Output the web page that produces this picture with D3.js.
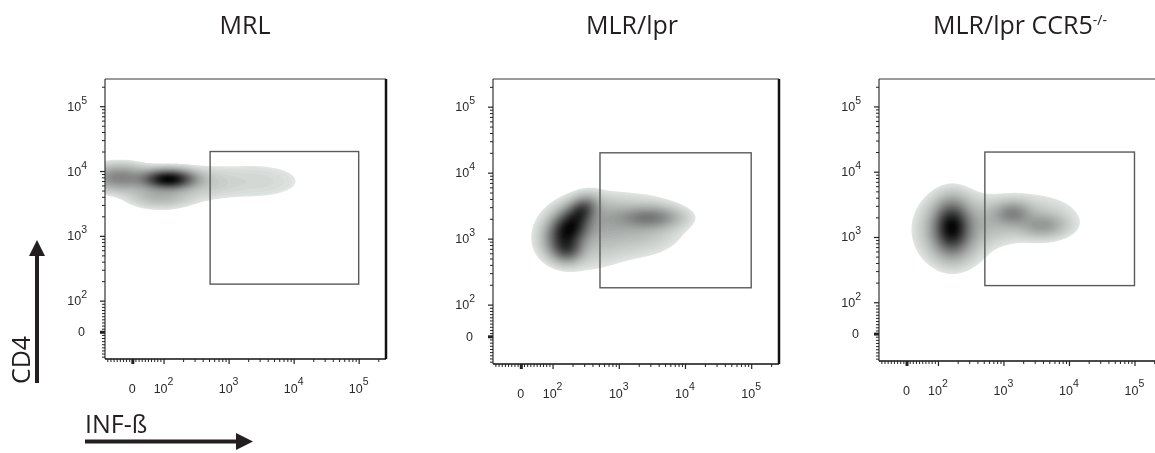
<!DOCTYPE html>
<html>
<head>
<meta charset="utf-8">
<script src="https://cdn.jsdelivr.net/npm/d3@7"></script>
<style>
  body { margin: 0; background: #fff; }
  svg { will-change: transform; }
</style>
</head>
<body>
<div id="chart"></div>
<script>
const WIDTH = 1155, HEIGHT = 453;

// DATA
const titles = ["MRL", "MLR/lpr", "MLR/lpr CCR5"];
const titleSups = ["", "", "-/-"];
const xLabel = "INF-ß";
const yLabel = "CD4";

// same gate on all three plots (channel values)
const gateX = [520, 100000];
const gateY = [180, 20000];

const majorTicks = [100, 1000, 10000, 100000];
const majorLabels = ["2", "3", "4", "5"];   // exponents of 10
const linearTicks = [-80, -70, -60, -50, -40, -30, -20, -10, 10, 20, 30, 40, 50, 60, 70, 80, 90];
const logMinorTicks = [2, 3, 4, 5, 6, 7, 8, 9];

// density peaks: centre (channel values), spread (decades), weight
const mrlBlobs = [
  { x: 120, y: 7500, sx: 0.23, sy: 0.085, r: 0, w: 1 },
  { x: -40, y: 7900, sx: 0.28, sy: 0.12, r: 0, w: 0.3 },
  { x: 90, y: 4300, sx: 0.3, sy: 0.12, r: 0, w: 0.14 },
  { x: 400, y: 6500, sx: 0.3, sy: 0.15, r: 0, w: 0.05 },
  { x: 2500, y: 7000, sx: 0.55, sy: 0.2, r: 0, w: 0.04 }
];
const lprBlobs = [
  { x: 175, y: 1400, sx: 0.18, sy: 0.18, r: 0.3, w: 1 },
  { x: 280, y: 2700, sx: 0.13, sy: 0.12, r: 0.3, w: 0.5 },
  { x: 165, y: 700, sx: 0.14, sy: 0.12, r: 0, w: 0.5 },
  { x: 600, y: 2200, sx: 0.25, sy: 0.18, r: 0, w: 0.08 },
  { x: 2950, y: 2100, sx: 0.28, sy: 0.1, r: 0, w: 0.3 },
  { x: 2000, y: 1600, sx: 0.38, sy: 0.25, r: 0, w: 0.12 },
  { x: 300, y: 1200, sx: 0.4, sy: 0.3, r: 0, w: 0.12 }
];
const ccr5Blobs = [
  { x: 162, y: 1400, sx: 0.15, sy: 0.22, r: 0, w: 1 },
  { x: 170, y: 1300, sx: 0.28, sy: 0.29, r: 0, w: 0.35 },
  { x: 700, y: 1700, sx: 0.25, sy: 0.2, r: 0, w: 0.09 },
  { x: 1400, y: 2300, sx: 0.17, sy: 0.11, r: 0, w: 0.3 },
  { x: 4000, y: 1500, sx: 0.22, sy: 0.11, r: 0, w: 0.22 },
  { x: 2500, y: 2000, sx: 0.45, sy: 0.22, r: 0, w: 0.09 }
];
const blobsByPanel = [mrlBlobs, lprBlobs, ccr5Blobs];

// LAYOUT
const PANELS = [
  { left: 105, top: 79, w: 281, h: 280, titleX: 245 },
  { left: 493, top: 79, w: 286, h: 285, titleX: 632 },
  { left: 879, top: 79, w: 283, h: 282, titleX: 1020 }
];
const U_DOMAIN = [1.1, 5.42];
const D0 = 0.02;       // outer contour level
const GAMMA = 0.65;
const N_LEVELS = 48;
const shade = d3.interpolateRgb("#e1e6e3", "#060606");

// biexponential-ish display transform: linear below 100, log above
const tf = v => v >= 100 ? Math.log10(v) : 1.52 + 0.48 * v / 100;

const minorTicks = linearTicks.concat(
  [100, 1000, 10000].flatMap(d => logMinorTicks.map(k => k * d)),
  [200000]
);

// CREATE SVG
const svg = d3.select("#chart")
  .append("svg")
  .attr("width", WIDTH)
  .attr("height", HEIGHT);

const axisFont = "'Liberation Sans', Arial, sans-serif";
const labelFont = "'Open Sans', 'Noto Sans', sans-serif";

PANELS.forEach((p, i) => {
  const g = svg.append("g").attr("transform", `translate(${p.left}, ${p.top})`);
  const xs = d3.scaleLinear().domain(U_DOMAIN).range([0, p.w]);
  const ys = d3.scaleLinear().domain(U_DOMAIN).range([p.h, 0]);

  // DENSITY GRID
  const nx = Math.round(p.w), ny = Math.round(p.h);
  const grid = new Float64Array(nx * ny);
  const blobs = blobsByPanel[i].map(b => ({ ...b, ux: tf(b.x), uy: tf(b.y) }));
  let max = 0;
  for (let j = 0; j < ny; j++) {
    const uy = ys.invert(j + 0.5);
    for (let k = 0; k < nx; k++) {
      const ux = xs.invert(k + 0.5);
      let s = 0;
      for (const b of blobs) {
        const dx = (ux - b.ux) / b.sx, dy = (uy - b.uy) / b.sy;
        const q = (dx * dx - 2 * b.r * dx * dy + dy * dy) / (1 - b.r * b.r);
        s += b.w * Math.exp(-0.5 * q);
      }
      grid[j * nx + k] = s;
      if (s > max) max = s;
    }
  }
  for (let n = 0; n < grid.length; n++) grid[n] /= max;

  const levels = d3.range(N_LEVELS).map(k => D0 + (1 - D0) * Math.pow(k / N_LEVELS, 1 / GAMMA));
  const contours = d3.contours().size([nx, ny]).thresholds(levels)(grid);

  g.append("clipPath").attr("id", `clip-${i}`)
    .append("rect").attr("width", p.w).attr("height", p.h);

  g.append("g")
    .attr("clip-path", `url(#clip-${i})`)
    .selectAll("path")
    .data(contours)
    .join("path")
    .attr("d", d3.geoPath())
    .attr("fill", (d, k) => shade(k / (N_LEVELS - 1)));

  // GATE
  g.append("rect")
    .attr("x", xs(tf(gateX[0])))
    .attr("y", ys(tf(gateY[1])))
    .attr("width", xs(tf(gateX[1])) - xs(tf(gateX[0])))
    .attr("height", ys(tf(gateY[0])) - ys(tf(gateY[1])))
    .attr("fill", "none")
    .attr("stroke", "#5a5a5a")
    .attr("stroke-width", 1.4);

  // FRAME
  g.append("line").attr("x1", 0).attr("x2", p.w).attr("y1", 0).attr("y2", 0)
    .attr("stroke", "#7a7a7a").attr("stroke-width", 1.5);
  g.append("line").attr("x1", p.w).attr("x2", p.w).attr("y1", 0).attr("y2", p.h)
    .attr("stroke", "#111").attr("stroke-width", 2.5);
  g.append("line").attr("x1", 0).attr("x2", 0).attr("y1", 0).attr("y2", p.h)
    .attr("stroke", "#333").attr("stroke-width", 1.2);
  g.append("line").attr("x1", 0).attr("x2", p.w).attr("y1", p.h).attr("y2", p.h)
    .attr("stroke", "#111").attr("stroke-width", 1.5);

  // AXES
  const tickStyle = (sel, width) => {
    sel.select(".domain").remove();
    sel.selectAll("line").attr("stroke", "#222").attr("stroke-width", width);
  };
  g.append("g").call(d3.axisLeft(ys).tickValues(minorTicks.map(tf)).tickSize(3).tickFormat(""))
    .call(tickStyle, 1);
  g.append("g").call(d3.axisLeft(ys).tickValues(majorTicks.map(tf)).tickSize(5).tickFormat(""))
    .call(tickStyle, 1.2);
  g.append("g").call(d3.axisLeft(ys).tickValues([tf(0)]).tickSize(5).tickFormat(""))
    .call(tickStyle, 3);

  const xg = g.append("g").attr("transform", `translate(0, ${p.h})`);
  xg.append("g").call(d3.axisBottom(xs).tickValues(minorTicks.map(tf)).tickSize(3).tickFormat(""))
    .call(tickStyle, 1);
  xg.append("g").call(d3.axisBottom(xs).tickValues(majorTicks.map(tf)).tickSize(5).tickFormat(""))
    .call(tickStyle, 1.2);
  xg.append("g").call(d3.axisBottom(xs).tickValues([tf(0)]).tickSize(5).tickFormat(""))
    .call(tickStyle, 3);

  // TICK LABELS
  const tickText = sel => sel
    .style("font-family", axisFont).style("font-size", "12.5px").attr("fill", "#2a2a2a");
  majorTicks.forEach((v, k) => {
    const ty = g.append("text")
      .attr("x", -18).attr("y", ys(tf(v)) + 4.5)
      .attr("text-anchor", "end")
      .call(tickText)
      .text("10");
    ty.append("tspan").attr("dy", -7).style("font-size", "10.5px").text(majorLabels[k]);

    const tx = g.append("text")
      .attr("x", xs(tf(v))).attr("y", p.h + 34)
      .attr("text-anchor", "middle")
      .call(tickText)
      .text("10");
    tx.append("tspan").attr("dy", -8).style("font-size", "10.5px").text(majorLabels[k]);
  });
  g.append("text")
    .attr("x", -20).attr("y", ys(tf(0)) + 4.5)
    .attr("text-anchor", "end")
    .call(tickText)
    .text("0");
  g.append("text")
    .attr("x", xs(tf(0))).attr("y", p.h + 34)
    .attr("text-anchor", "middle")
    .call(tickText)
    .text("0");

  // TITLE
  const t = svg.append("text")
    .attr("x", p.titleX).attr("y", 34)
    .attr("text-anchor", "middle")
    .style("font-family", labelFont).style("font-size", "25px").attr("fill", "#231f20")
    .text(titles[i]);
  if (titleSups[i]) {
    t.append("tspan").attr("dy", -9).style("font-size", "14px").text(titleSups[i]);
  }
});

// AXIS NAMES WITH ARROWS
svg.append("text")
  .attr("transform", "translate(30, 360) rotate(-90)")
  .attr("text-anchor", "middle")
  .style("font-family", labelFont).style("font-size", "25px").attr("fill", "#231f20")
  .text(yLabel);
svg.append("line").attr("x1", 37).attr("x2", 37).attr("y1", 383).attr("y2", 252)
  .attr("stroke", "#231f20").attr("stroke-width", 4);
svg.append("path").attr("d", "M37,240 L29,256 L45,256 Z").attr("fill", "#231f20");

svg.append("text")
  .attr("x", 85).attr("y", 433)
  .style("font-family", labelFont).style("font-size", "25px").attr("fill", "#231f20")
  .text(xLabel);
svg.append("line").attr("x1", 85).attr("x2", 240).attr("y1", 441.5).attr("y2", 441.5)
  .attr("stroke", "#231f20").attr("stroke-width", 4);
svg.append("path").attr("d", "M253,441.5 L236,433 L236,450 Z").attr("fill", "#231f20");
</script>
</body>
</html>
